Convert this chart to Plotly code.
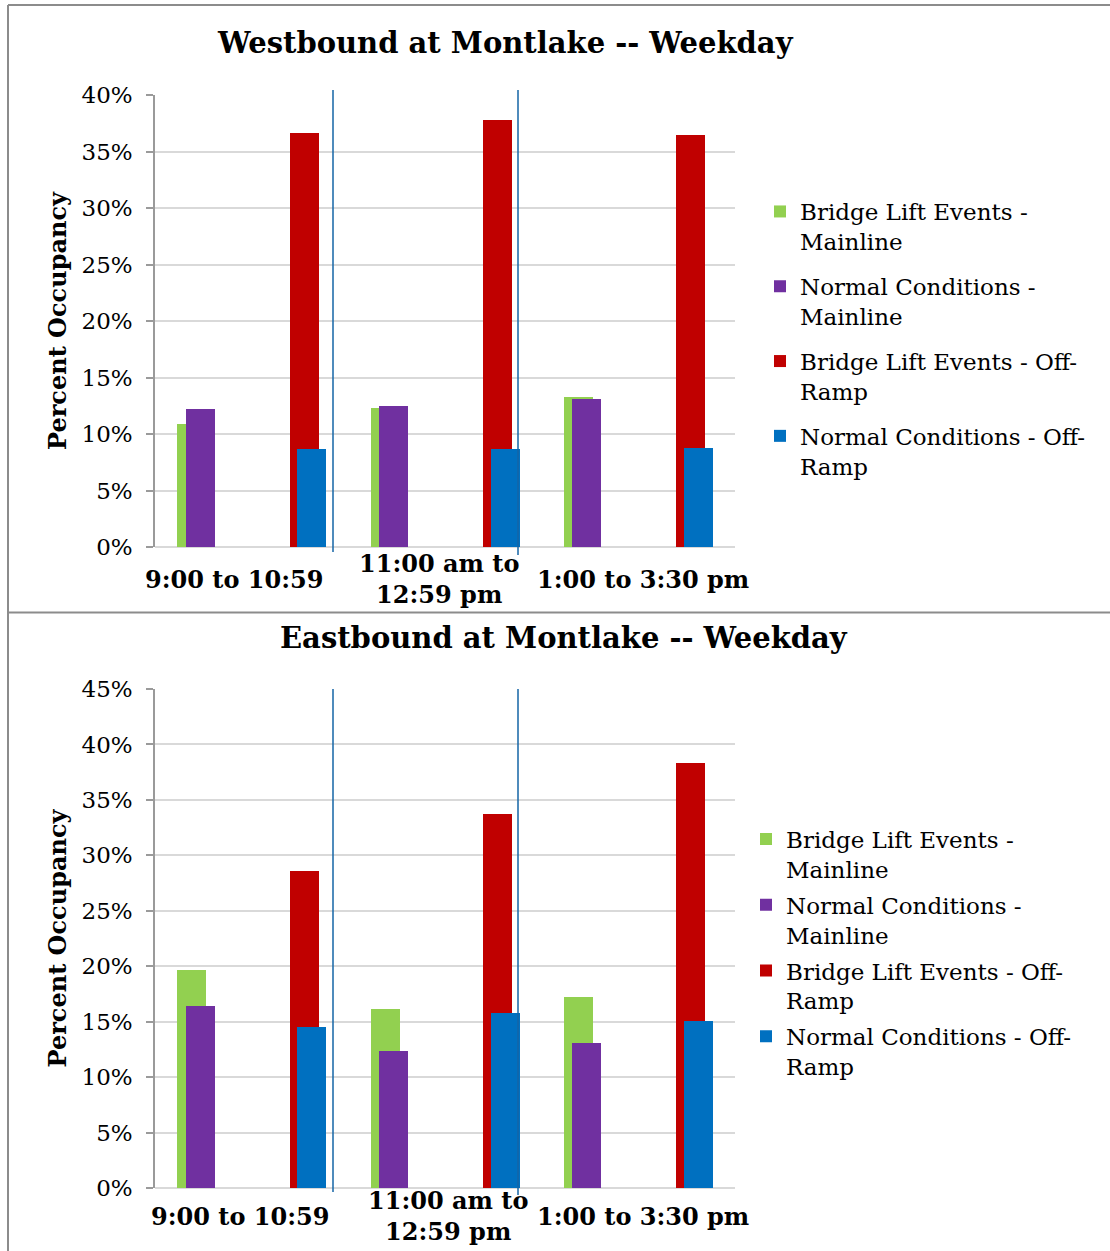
import plotly.graph_objects as go

# Time-of-day periods on the x axis
periods = ["9:00 to 10:59", "11:00 am to<br>12:59 pm", "1:00 to 3:30 pm"]

# Westbound at Montlake -- weekday percent occupancy
wb_lift_mainline = [0.109, 0.123, 0.1325]
wb_normal_mainline = [0.122, 0.125, 0.131]
wb_lift_offramp = [0.366, 0.378, 0.365]
wb_normal_offramp = [0.087, 0.0865, 0.0875]

# Eastbound at Montlake -- weekday percent occupancy
eb_lift_mainline = [0.197, 0.161, 0.172]
eb_normal_mainline = [0.164, 0.124, 0.1305]
eb_lift_offramp = [0.286, 0.337, 0.383]
eb_normal_offramp = [0.145, 0.158, 0.1505]

series_names = [
    "Bridge Lift Events -<br>Mainline",
    "Normal Conditions -<br>Mainline",
    "Bridge Lift Events - Off-<br>Ramp",
    "Normal Conditions - Off-<br>Ramp",
]
series_colors = ["#92d050", "#7030a0", "#c00000", "#0070c0"]
bar_offsets = [-0.384, -0.342, 0.196, 0.237]
BAR_WIDTH = 0.15

W, H = 1110, 1251
FONT = "DejaVu Serif"


def py(pix):
    """Convert a pixel row (from the top) into paper y."""
    return 1 - pix / H


def px(pix):
    return pix / W


fig = go.Figure()
xs = list(range(len(periods)))

panels = [
    dict(vals=[wb_lift_mainline, wb_normal_mainline, wb_lift_offramp, wb_normal_offramp],
         xaxis="x", yaxis="y", legend="legend"),
    dict(vals=[eb_lift_mainline, eb_normal_mainline, eb_lift_offramp, eb_normal_offramp],
         xaxis="x2", yaxis="y2", legend="legend2"),
]

for p in panels:
    for i, vals in enumerate(p["vals"]):
        fig.add_trace(go.Bar(
            x=xs, y=vals, name=series_names[i],
            marker=dict(color=series_colors[i], line=dict(width=0)),
            width=BAR_WIDTH, offset=bar_offsets[i],
            xaxis=p["xaxis"], yaxis=p["yaxis"], legend=p["legend"],
            legendgroup=f"{p['legend']}-{i}",
            hovertemplate="%{y:.1%}<extra></extra>",
        ))

x_dom = [px(155), px(735)]
axis_common = dict(
    showgrid=True, gridcolor="#d9d9d9", gridwidth=1.5,
    zeroline=True, zerolinecolor="#d9d9d9", zerolinewidth=1.5,
    showline=True, linecolor="#9a9a9a", linewidth=1.5,
    ticks="outside", ticklen=7, tickcolor="#9a9a9a", tickwidth=1.5,
    ticklabelstandoff=9,
    tickformat=".0%", tickfont=dict(family=FONT, size=23, color="#000"),
    title=dict(text="<b>Percent Occupancy</b>", font=dict(family=FONT, size=24, color="#000"),
               standoff=8),
    automargin=False,
)
xaxis_common = dict(range=[-0.5, 2.5], showticklabels=False, showgrid=False,
                    zeroline=False, showline=False, ticks="", automargin=False)

legend_common = dict(xanchor="left", yanchor="top", valign="top",
                     font=dict(family=FONT, size=23, color="#000"),
                     traceorder="grouped", bgcolor="rgba(0,0,0,0)")

fig.update_layout(
    width=W, height=H,
    margin=dict(l=0, r=0, t=0, b=0),
    paper_bgcolor="white", plot_bgcolor="white",
    barmode="overlay",
    bargap=0,
    font=dict(family=FONT, color="#000"),
    xaxis=dict(domain=x_dom, anchor="y", **xaxis_common),
    yaxis=dict(domain=[py(547), py(95)], anchor="x", range=[0, 0.40], dtick=0.05, **axis_common),
    xaxis2=dict(domain=x_dom, anchor="y2", **xaxis_common),
    yaxis2=dict(domain=[py(1188), py(689)], anchor="x2", range=[0, 0.45], dtick=0.05, **axis_common),
    legend=dict(x=px(760), y=py(190), tracegroupgap=12, **legend_common),
    legend2=dict(x=px(746), y=py(817.5), tracegroupgap=3, **legend_common),
    showlegend=True,
)

# Chart titles
fig.add_annotation(text="<b>Westbound at Montlake -- Weekday</b>", x=px(505), y=py(43),
                   xref="paper", yref="paper", showarrow=False, yanchor="middle",
                   font=dict(family=FONT, size=29, color="#000"))
fig.add_annotation(text="<b>Eastbound at Montlake -- Weekday</b>", x=px(564), y=py(638),
                   xref="paper", yref="paper", showarrow=False, yanchor="middle",
                   font=dict(family=FONT, size=29, color="#000"))

# Period labels, vertically centred under each category
label_shift = {"x": (-18, -6, 5), "x2": (-12, 3, 5)}
for xref, ypix in (("x", 579), ("x2", 1216)):
    for i, lab in enumerate(periods):
        fig.add_annotation(text=f"<b>{lab}</b>", x=i, y=py(ypix), xref=xref, yref="paper",
                           showarrow=False, yanchor="middle", xshift=label_shift[xref][i],
                           font=dict(family=FONT, size=24, color="#000"))

# Period separator lines
sep_color = "#1565a6"
for xref, top, bottoms in (("x", 90, (552, 555)), ("x2", 689, (1192, 1195))):
    for xv, bot in zip((0.4207, 1.3776), bottoms):
        fig.add_shape(type="line", xref=xref, yref="paper", x0=xv, x1=xv,
                      y0=py(top), y1=py(bot), line=dict(color=sep_color, width=1.5))

# Panel frames
frame = dict(color="#8c8c8c", width=2)
fig.add_shape(type="line", xref="paper", yref="paper", x0=px(8), x1=1, y0=py(5), y1=py(5), line=frame)
fig.add_shape(type="line", xref="paper", yref="paper", x0=px(8), x1=1, y0=py(612.5), y1=py(612.5), line=frame)
fig.add_shape(type="line", xref="paper", yref="paper", x0=px(8), x1=px(8), y0=py(5), y1=0, line=frame)

fig.write_html("out.html")
